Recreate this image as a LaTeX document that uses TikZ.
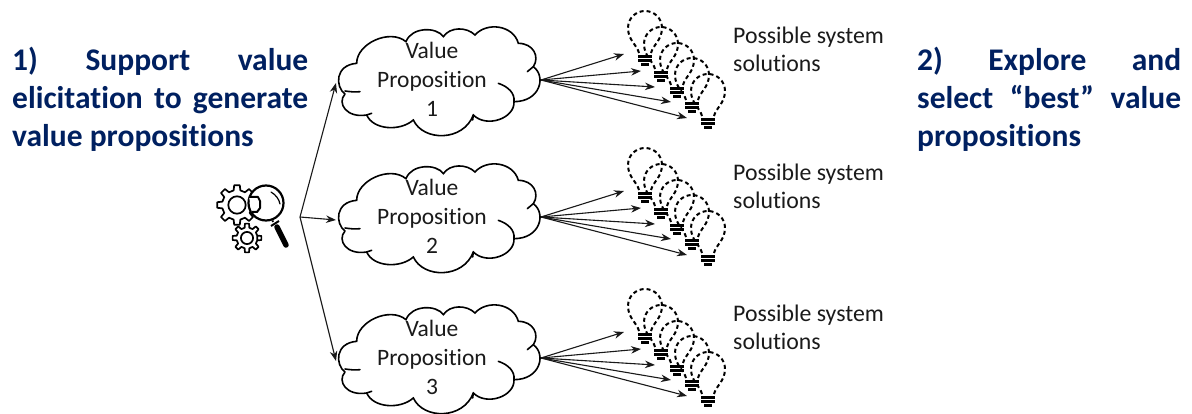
\documentclass[tikz,border=0pt]{standalone}
\usepackage{fontspec}
\setmainfont[Ligatures=NoCommon]{Carlito}
\usetikzlibrary{arrows.meta}
\definecolor{headblue}{HTML}{002060}
\definecolor{bodygrey}{HTML}{1A1A1A}
\tikzset{
  link/.style={draw=black!90,line width=1.1pt,-{Stealth[length=10pt,width=7.5pt]}},
  cloudline/.style={draw=black,line width=1.6pt,line cap=round},
  bulbline/.style={draw=black,line width=2pt,dash pattern=on 4pt off 3pt},
  bulbbase/.style={draw=black,line width=2.4pt},
  iconline/.style={draw=black,line width=1.7pt,line join=round},
  head/.style={font=\fontsize{31.5}{38}\selectfont\bfseries,text=headblue,inner sep=0pt,anchor=north west,align=left},
  vp/.style={font=\fontsize{23.5}{29}\selectfont,text=bodygrey,align=center,inner sep=0pt},
  sol/.style={font=\fontsize{23.8}{28}\selectfont,text=bodygrey,align=left,inner sep=0pt,anchor=north west},
  pics/cloudform/.style={code={
    \path[cloudline,scale=1/3]
      (45,222) .. controls (15,200) and (15,135) .. (80,130)
      .. controls (80,70) and (180,25) .. (228,65)
      .. controls (245,20) and (320,20) .. (340,50)
      .. controls (360,20) and (410,20) .. (435,45)
      .. controls (470,5) and (550,15) .. (565,70)
      .. controls (610,70) and (630,110) .. (610,140)
      .. controls (650,170) and (630,245) .. (552,245)
      .. controls (555,295) and (470,325) .. (430,285)
      .. controls (400,365) and (280,365) .. (250,300)
      .. controls (210,335) and (130,330) .. (110,285)
      .. controls (50,295) and (20,250) .. (45,222);
    \path[cloudline,scale=1/3] (45,213) .. controls (60,215) and (75,217) .. (90,215);
    \path[cloudline,scale=1/3] (110,285) -- (125,280);
    \path[cloudline,scale=1/3] (430,285) -- (428,300);
    \path[cloudline,scale=1/3] (592,155) -- (610,140);
    \path[cloudline,scale=1/3] (552,245) .. controls (555,220) and (535,200) .. (505,190);
  }},
  pics/bulbform/.style={code={
    \path[bulbline] (-6,-7) .. controls (-8,-15) and (-17,-20) .. (-17,-32)
      .. controls (-17,-42) and (-9,-49) .. (0,-49)
      .. controls (9,-49) and (17,-42) .. (17,-32)
      .. controls (17,-20) and (8,-15) .. (6,-7);
    \path[bulbbase] (-7,-3.5) -- (7,-3.5);
    \path[bulbbase] (-7,0.5) -- (7,0.5);
    \path[bulbbase] (-4,4.5) -- (4,4.5);
  }},
  pics/gearform/.style args={#1/#2/#3}{code={
    \path[iconline,fill=white]
      \foreach \k in {0,...,#3}{
        \ifnum\k=0 (\k*360/#3-13:#2) \else -- (\k*360/#3-13:#2) \fi
        -- (\k*360/#3-8:#1) -- (\k*360/#3+8:#1) -- (\k*360/#3+13:#2)
      } -- cycle;
    \path[iconline] (0,0) circle[radius=#2*0.58];
  }}
}
\begin{document}
\begin{tikzpicture}[x=1pt,y=-1pt]
\useasboundingbox (0,0) rectangle (1192,414);

\node[head] (lefttext) at (12,46.5)
  {\hbox to 296pt{1)\hfill Support\hfill value}\\
   \hbox to 296pt{elicitation\hfill to\hfill generate}\\
   value propositions};
\node[head] (righttext) at (917,46.5)
  {\hbox to 264pt{2)\hfill Explore\hfill and}\\
   \hbox to 264pt{select\hfill “best”\hfill value}\\
   propositions};

% analysis icon
\pic at (237,205) {gearform={20/15/8}};
\pic at (247,238) {gearform={14.5/10.5/8}};
\node[circle,draw=black,line width=2.2pt,fill=white,minimum size=35pt,inner sep=0pt] (lens) at (266,203) {};
\draw[line width=2pt,fill=white,line join=round] (249,197) -- (258,197) -- (260,201) -- (260,208) -- (257,212) -- (252,212);
\draw[line width=1.2pt,line cap=round] (271,192) .. controls (276,195) and (279,199) .. (280,204);
\coordinate (gripstart) at (273,222);
\coordinate (gripmid) at (277,227);
\coordinate (gripend) at (286,245);
\draw[line width=1.8pt] (lens) -- (gripstart);
\draw[line width=2pt] (271,226) -- (279,221);
\draw[line width=5.5pt,line cap=round] (gripmid) -- (gripend);

\coordinate (hub) at (300,217);

\foreach \n/\dy/\lab in {1/0/1,2/137/2,3/278/3}{
  \pic at (330,20+\dy) {cloudform};
  \node[vp] (vp\n) at (432,79+\dy) {Value\\Proposition\\\lab};
  \coordinate (vpw\n) at (336,83+\dy);
  \coordinate (vpe\n) at (541,80+\dy);
  \node[sol] (sol\n) at (733,27+\dy) {Possible system\\solutions};
  \foreach \b/\bx/\by/\tx/\ty in {a/645/60/624/54,b/661/76/641/71,c/677/92/655/87,d/692/107/671/102,e/708/123/687/118}{
    \pic at (\bx,\by+\dy) {bulbform};
    \coordinate (tip\n\b) at (\tx,\ty+\dy);
    \draw[link] (vpe\n) -- (tip\n\b);
  }
  \draw[link] (hub) -- (vpw\n);
}
\end{tikzpicture}
\end{document}
